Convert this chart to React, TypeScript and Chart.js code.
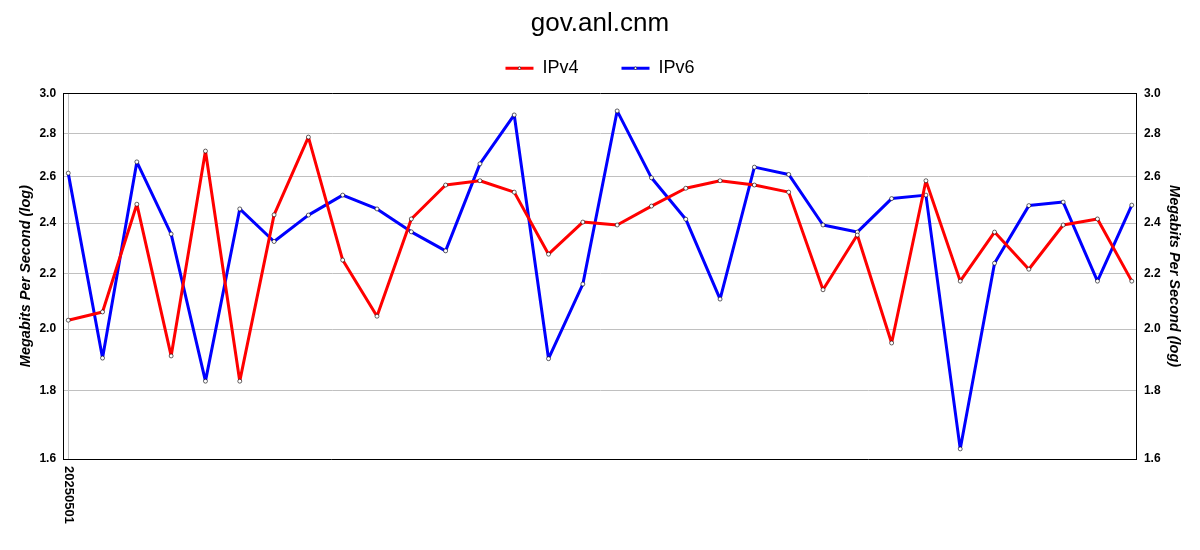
import React, { useEffect, useRef } from "react";
import { Chart, registerables } from "chart.js";

Chart.register(...registerables);

const chartTitle = "gov.anl.cnm";
const yAxisTitle = "Megabits Per Second (log)";
const xLabels = ["20250501"];
const yTickValues = [1.6, 1.8, 2.0, 2.2, 2.4, 2.6, 2.8, 3.0];

const ipv4 = [
  2.031, 2.06, 2.479, 1.91, 2.716, 1.829, 2.434, 2.782, 2.252, 2.045, 2.417,
  2.562, 2.581, 2.531, 2.275, 2.404, 2.392, 2.471, 2.548, 2.581, 2.562, 2.531,
  2.14, 2.351, 1.953, 2.581, 2.172, 2.363, 2.217, 2.392, 2.417, 2.172,
];
const ipv6 = [
  2.615, 1.903, 2.666, 2.355, 1.829, 2.459, 2.325, 2.433, 2.518, 2.459, 2.364,
  2.288, 2.657, 2.89, 1.901, 2.161, 2.91, 2.594, 2.416, 2.106, 2.642, 2.609,
  2.392, 2.363, 2.503, 2.518, 1.628, 2.24, 2.473, 2.488, 2.172, 2.475,
];

const FONT = '"Liberation Sans", Arial, sans-serif';
const LEGEND_BOX_W = 28;
const LEGEND_FONT = 18;

export default function App() {
  const ref = useRef<HTMLCanvasElement>(null);

  useEffect(() => {
    if (!ref.current) return;
    const toXY = (arr: number[]) => arr.map((y, i) => ({ x: i, y }));

    const helperPlugin = {
      id: "helperPlugin",
      afterInit(chart: any) {
        const lg = chart.legend;
        if (lg && !lg.__patched) {
          const orig = lg.fit.bind(lg);
          lg.fit = () => {
            orig();
            lg.height += 6;
          };
          lg.__patched = true;
        }
      },
      afterDraw(chart: any) {
        const ctx = chart.ctx;
        const xs = chart.scales.x;
        ctx.save();
        // rotated x label(s)
        ctx.font = `bold 13px ${FONT}`;
        ctx.fillStyle = "#000";
        ctx.textAlign = "left";
        ctx.textBaseline = "middle";
        xLabels.forEach((lab, i) => {
          const px = xs.getPixelForValue(i);
          ctx.save();
          ctx.translate(px, chart.chartArea.bottom + 7);
          ctx.rotate(Math.PI / 2);
          ctx.fillText(lab, 0, 0);
          ctx.restore();
        });
        // small marker dots in the legend lines
        const boxes = chart.legend?.legendHitBoxes || [];
        boxes.forEach((hb: any) => {
          const cx = hb.left + LEGEND_BOX_W / 2;
          const cy = hb.top + LEGEND_FONT / 2;
          ctx.beginPath();
          ctx.arc(cx, cy, 1.3, 0, Math.PI * 2);
          ctx.fillStyle = "#fff";
          ctx.fill();
          ctx.lineWidth = 0.6;
          ctx.strokeStyle = "#000";
          ctx.stroke();
        });
        ctx.restore();
      },
    };

    const yTickOpts = {
      callback: (v: any) => Number(v).toFixed(1),
      color: "#000",
      font: { family: FONT, size: 12, weight: "bold" as const },
      padding: 7,
    };
    const yTitleOpts = {
      display: true,
      text: yAxisTitle,
      color: "#000",
      font: { family: FONT, size: 14.5, weight: "bold" as const, style: "italic" as const },
      padding: { top: 9, bottom: -2 },
    };
    const setYTicks = (s: any) => {
      s.ticks = yTickValues.map((value) => ({ value }));
    };

    const lineStyle = {
      borderWidth: 3,
      borderJoinStyle: "round" as const,
      pointRadius: 2,
      pointBackgroundColor: "#ffffff",
      pointBorderColor: "#000000",
      pointBorderWidth: 0.6,
      tension: 0,
      yAxisID: "y",
    };

    const chart = new Chart(ref.current, {
      type: "line",
      data: {
        datasets: [
          {
            label: "IPv4",
            data: toXY(ipv4),
            borderColor: "#ff0000",
            backgroundColor: "#ff0000",
            ...lineStyle,
          },
          {
            label: "IPv6",
            data: toXY(ipv6),
            borderColor: "#0000ff",
            backgroundColor: "#0000ff",
            ...lineStyle,
          },
        ],
      },
      options: {
        animation: false,
        responsive: false,
        maintainAspectRatio: false,
        layout: { padding: { left: 8, right: 8, top: 0, bottom: 91 } },
        plugins: {
          title: {
            display: true,
            text: chartTitle,
            color: "#000",
            font: { family: FONT, size: 26, weight: "normal" },
            padding: { top: 8, bottom: -23 },
          },
          legend: {
            display: true,
            position: "top",
            labels: {
              boxWidth: LEGEND_BOX_W,
              boxHeight: 3,
              color: "#000",
              font: { family: FONT, size: LEGEND_FONT },
              padding: 43,
              generateLabels: (c: any) =>
                Chart.defaults.plugins.legend.labels
                  .generateLabels(c)
                  .map((l: any) => ({ ...l, lineWidth: 0 })),
            },
          },
          tooltip: { enabled: false },
        },
        scales: {
          x: {
            type: "linear",
            min: -0.15,
            max: ipv4.length - 1 + 0.15,
            afterBuildTicks: (s: any) => {
              s.ticks = xLabels.map((_, i) => ({ value: i }));
            },
            ticks: { display: false },
            grid: { color: "#c0c0c0", drawTicks: false },
            border: { color: "#000", width: 1 },
          },
          y: {
            type: "logarithmic",
            position: "left",
            min: 1.6,
            max: 3.0,
            afterBuildTicks: setYTicks,
            ticks: yTickOpts,
            grid: {
              drawTicks: false,
              color: (c: any) => (c.tick && c.tick.value >= 2.999 ? "#000" : "#c0c0c0"),
            },
            border: { color: "#000", width: 1 },
            title: yTitleOpts,
          },
          y2: {
            type: "logarithmic",
            position: "right",
            min: 1.6,
            max: 3.0,
            afterBuildTicks: setYTicks,
            ticks: yTickOpts,
            grid: { display: false, drawTicks: false },
            border: { color: "#000", width: 1 },
            title: yTitleOpts,
          },
        },
      },
      plugins: [helperPlugin],
    });

    return () => chart.destroy();
  }, []);

  return (
    <div style={{ position: "fixed", left: 0, top: 0, width: 1200, height: 550, background: "#fff" }}>
      <canvas ref={ref} width={1200} height={550} style={{ display: "block" }} />
    </div>
  );
}
